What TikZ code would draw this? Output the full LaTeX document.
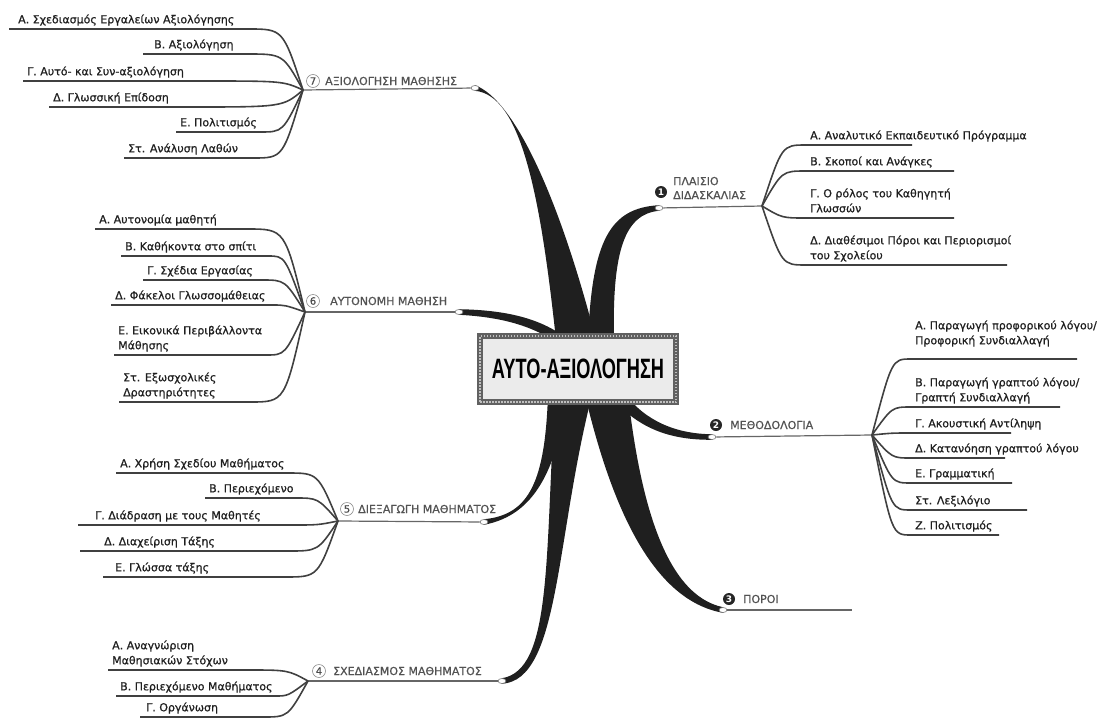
\documentclass[tikz,border=0pt]{standalone}
\usepackage{graphicx}
\usepackage{fontspec}
\setmainfont{DejaVu Sans}
\newfontfamily\leaffamily{DejaVu Sans}[FakeBold=0.8]
\newfontfamily\titlefamily{Liberation Sans}
\usetikzlibrary{shapes.geometric,backgrounds}

\tikzset{
  leaf/.style={anchor=south west, align=left, inner xsep=4pt, inner ysep=2.5pt, text depth=3pt,
    font=\leaffamily\fontsize{11}{15}\selectfont, text=black!88},
  twig/.style={draw=black!75, line width=1.6pt},
  stem/.style={draw=black!60, line width=1.2pt},
  topic/.style={anchor=west, inner sep=0pt, align=left, font=\leaffamily\fontsize{11}{14}\selectfont, text=black!68},
  ring/.style={circle, draw=black!45, line width=0.6pt, inner sep=0pt, minimum size=13pt,
    font=\leaffamily\fontsize{10}{10}\selectfont, text=black!70},
  badge/.style={circle, fill=black!85, inner sep=0pt, minimum size=12pt,
    font=\fontsize{9}{9}\selectfont\bfseries, text=white},
  knob/.style={ellipse, draw=black!55, fill=white, line width=0.6pt, minimum width=8pt,
    minimum height=5pt, inner sep=0pt},
  limb/.style={fill=black!88},
  rootbox/.style={draw=black!62, line width=6pt, fill=black!8, minimum width=196pt,
    minimum height=66pt, inner sep=0pt,
    postaction={draw=black!25, line width=2pt, dash pattern=on 1.5pt off 1.5pt}}
}

\begin{document}
\begin{tikzpicture}[x=1pt, y=-1pt]
\useasboundingbox (0,0) rectangle (1104,718);

% centre
\node[rootbox] (root) at (578,369) {\titlefamily\scalebox{0.65}[1]{\fontsize{28}{30}\selectfont\bfseries ΑΥΤΟ-ΑΞΙΟΛΟΓΗΣΗ}};

% branch ends
\node[knob] (c1) at (659,208) {};
\node[knob] (c2) at (712,437) {};
\node[knob] (c3) at (723,610) {};
\node[knob] (c4) at (502,681) {};
\node[knob] (c5) at (484,522) {};
\node[knob] (c6) at (459,312) {};
\node[knob] (c7) at (475,88) {};

\begin{scope}[on background layer]
\fill[limb] ([xshift=-22pt,yshift=29pt]root.center) .. controls (540,190) and (520,95) .. (c7.south)
  -- (c7.north) .. controls (515,100) and (560,200) .. ([xshift=18pt,yshift=29pt]root.center) -- cycle;
\fill[limb] ([xshift=10pt,yshift=29pt]root.center) .. controls (592,240) and (610,208) .. (c1.north)
  -- (c1.south) .. controls (625,214) and (612,250) .. ([xshift=36pt,yshift=29pt]root.center) -- cycle;
\fill[limb] ([xshift=-12pt,yshift=31pt]root.center) .. controls (540,318) and (505,310) .. (c6.north)
  -- (c6.south) .. controls (500,317) and (530,325) .. ([xshift=-22pt,yshift=27pt]root.center) -- cycle;
\fill[limb] ([xshift=48pt,yshift=-26pt]root.center) .. controls (645,420) and (675,434) .. (c2.north)
  -- (c2.south) .. controls (672,440) and (640,430) .. ([xshift=34pt,yshift=-29pt]root.center) -- cycle;
\fill[limb] ([xshift=7pt,yshift=-26pt]root.center) .. controls (610,500) and (650,600) .. (c3.south)
  -- (c3.north) .. controls (665,595) and (640,500) .. ([xshift=50pt,yshift=-26pt]root.center) -- cycle;
\fill[limb] ([xshift=-30pt,yshift=-26pt]root.center) .. controls (545,480) and (530,515) .. (c5.north)
  -- (c5.south) .. controls (535,515) and (556,470) .. ([xshift=-10pt,yshift=-26pt]root.center) -- cycle;
\fill[limb] ([xshift=-23pt,yshift=-26pt]root.center) .. controls (545,560) and (552,670) .. (c4.north)
  -- (c4.south) .. controls (560,680) and (555,540) .. ([xshift=14pt,yshift=-26pt]root.center) -- cycle;
\end{scope}

% junctions
\coordinate (j1) at (762,206);  \coordinate (k1) at (782,206);
\coordinate (j2) at (872,435);  \coordinate (k2) at (892,435);
\coordinate (e3) at (852,610);
\coordinate (j4) at (308,681);  \coordinate (k4) at (288,681);
\coordinate (j5) at (338,521);  \coordinate (k5) at (318,521);
\coordinate (j6) at (305,312);  \coordinate (k6) at (285,312);
\coordinate (j7) at (303,90);   \coordinate (k7) at (283,90);

\draw[stem] (c1) -- (j1);
\draw[stem] (c2) -- (j2);
\draw[stem] (c3) -- (e3);
\draw[stem] (j4) -- (c4);
\draw[stem] (j5) -- (c5);
\draw[stem] (j6) -- (c6);
\draw[stem] (j7) -- (c7);

% topics
\node[badge] (n1) at (661,192) {1};
\node[topic] (h1) at (673,188) {ΠΛΑΙΣΙΟ\\ΔΙΔΑΣΚΑΛΙΑΣ};
\node[badge] (n2) at (716,425) {2};
\node[topic] (h2) at (730,425) {ΜΕΘΟΔΟΛΟΓΙΑ};
\node[badge] (n3) at (729,599) {3};
\node[topic] (h3) at (743,599) {ΠΟΡΟΙ};
\node[ring] (n4) at (319,671) {4};
\node[topic] (h4) at (333,671) {ΣΧΕΔΙΑΣΜΟΣ ΜΑΘΗΜΑΤΟΣ};
\node[ring] (n5) at (347,509) {5};
\node[topic] (h5) at (358,509) {ΔΙΕΞΑΓΩΓΗ ΜΑΘΗΜΑΤΟΣ};
\node[ring] (n6) at (313,301) {6};
\node[topic] (h6) at (330,301) {ΑΥΤΟΝΟΜΗ ΜΑΘΗΣΗ};
\node[ring] (n7) at (313,81) {7};
\node[topic] (h7) at (325,81) {ΑΞΙΟΛΟΓΗΣΗ ΜΑΘΗΣΗΣ};

% 1
\node[leaf] (t1a) at (806,145) {Α. Αναλυτικό Εκπαιδευτικό Πρόγραμμα};
\node[leaf] (t1b) at (806,171) {Β. Σκοποί και Ανάγκες};
\node[leaf] (t1c) at (806,218) {Γ. Ο ρόλος του Καθηγητή\\Γλωσσών};
\node[leaf] (t1d) at (806,265) {Δ. Διαθέσιμοι Πόροι και Περιορισμοί\\του Σχολείου};
\draw[twig] (j1) .. controls (k1 |- t1a.south) .. (t1a.south west) -- ++(106,0);
\draw[twig] (j1) .. controls (k1 |- t1b.south) .. (t1b.south west) -- ++(148,0);
\draw[twig] (j1) .. controls (k1 |- t1c.south) .. (t1c.south west) -- ++(148,0);
\draw[twig] (j1) .. controls (k1 |- t1d.south) .. (t1d.south west) -- ++(201,0);

% 2
\node[leaf, text depth=12pt] (t2a) at (911,359) {Α. Παραγωγή προφορικού λόγου/\\Προφορική Συνδιαλλαγή};
\node[leaf] (t2b) at (911,407) {Β. Παραγωγή γραπτού λόγου/\\Γραπτή Συνδιαλλαγή};
\node[leaf] (t2c) at (911,433) {Γ. Ακουστική Αντίληψη};
\node[leaf] (t2d) at (911,458) {Δ. Κατανόηση γραπτού λόγου};
\node[leaf] (t2e) at (911,483) {Ε. Γραμματική};
\node[leaf] (t2f) at (911,510) {Στ. Λεξιλόγιο};
\node[leaf] (t2g) at (911,535) {Ζ. Πολιτισμός};
\draw[twig] (j2) .. controls (k2 |- t2a.south) .. (t2a.south west) -- ++(166,0);
\draw[twig] (j2) .. controls (k2 |- t2b.south) .. (t2b.south west) -- ++(149,0);
\draw[twig] (j2) .. controls (k2 |- t2c.south) .. (t2c.south west) -- ++(100,0);
\draw[twig] (j2) .. controls (k2 |- t2d.south) .. (t2d.south west) -- ++(94,0);
\draw[twig] (j2) .. controls (k2 |- t2e.south) .. (t2e.south west) -- ++(101,0);
\draw[twig] (j2) .. controls (k2 |- t2f.south) .. (t2f.south west) -- ++(116,0);
\draw[twig] (j2) .. controls (k2 |- t2g.south) .. (t2g.south west) -- ++(88,0);

% 4
\node[leaf] (t4a) at (108,670) {Α. Αναγνώριση\\Μαθησιακών Στόχων};
\node[leaf] (t4b) at (116,696) {Β. Περιεχόμενο Μαθήματος};
\node[leaf] (t4c) at (142,717) {Γ. Οργάνωση};
\draw[twig] (t4a.south west) -- ++(139,0) .. controls (k4 |- t4a.south) .. (j4);
\draw[twig] (t4b.south west) -- ++(159,0) .. controls (k4 |- t4b.south) .. (j4);
\draw[twig] ([xshift=-2pt]t4c.south west) -- ++(123,0) .. controls (k4 |- t4c.south) .. (j4);

% 5
\node[leaf] (t5a) at (116,473) {Α. Χρήση Σχεδίου Μαθήματος};
\node[leaf] (t5b) at (205,498) {Β. Περιεχόμενο};
\node[leaf] (t5c) at (91,525) {Γ. Διάδραση με τους Μαθητές};
\node[leaf] (t5d) at (100,551) {Δ. Διαχείριση Τάξης};
\node[leaf] (t5e) at (111,577) {Ε. Γλώσσα τάξης};
\draw[twig] (t5a.south west) -- ++(171,0) .. controls (k5 |- t5a.south) .. (j5);
\draw[twig] (t5b.south west) -- ++(90,0) .. controls (k5 |- t5b.south) .. (j5);
\draw[twig] ([xshift=-13pt]t5c.south west) -- ++(214,0) .. controls (k5 |- t5c.south) .. (j5);
\draw[twig] ([xshift=-20pt]t5d.south west) -- ++(208,0) .. controls (k5 |- t5d.south) .. (j5);
\draw[twig] ([xshift=-8pt]t5e.south west) -- ++(182,0) .. controls (k5 |- t5e.south) .. (j5);

% 6
\node[leaf] (t6a) at (95,229) {Α. Αυτονομία μαθητή};
\node[leaf] (t6b) at (121,256) {Β. Καθήκοντα στο σπίτι};
\node[leaf] (t6c) at (143,280) {Γ. Σχέδια Εργασίας};
\node[leaf] (t6d) at (111,305) {Δ. Φάκελοι Γλωσσομάθειας};
\node[leaf] (t6e) at (114,355) {Ε. Εικονικά Περιβάλλοντα\\Μάθησης};
\node[leaf] (t6f) at (119,402) {Στ. Εξωσχολικές\\Δραστηριότητες};
\draw[twig] (t6a.south west) -- ++(152,0) .. controls (k6 |- t6a.south) .. (j6);
\draw[twig] (t6b.south west) -- ++(147,0) .. controls (k6 |- t6b.south) .. (j6);
\draw[twig] (t6c.south west) -- ++(119,0) .. controls (k6 |- t6c.south) .. (j6);
\draw[twig] (t6d.south west) -- ++(161,0) .. controls (k6 |- t6d.south) .. (j6);
\draw[twig] (t6e.south west) -- ++(152,0) .. controls (k6 |- t6e.south) .. (j6);
\draw[twig] (t6f.south west) -- ++(131,0) .. controls (k6 |- t6f.south) .. (j6);

% 7
\node[leaf] (t7a) at (14,29) {Α. Σχεδιασμός Εργαλείων Αξιολόγησης};
\node[leaf] (t7b) at (150,54) {Β. Αξιολόγηση};
\node[leaf] (t7c) at (23,81) {Γ. Αυτό- και Συν-αξιολόγηση};
\node[leaf] (t7d) at (49,107) {Δ. Γλωσσική Επίδοση};
\node[leaf] (t7e) at (176,132) {Ε. Πολιτισμός};
\node[leaf] (t7f) at (124,158) {Στ. Ανάλυση Λαθών};
\draw[twig] ([xshift=-5pt]t7a.south west) -- ++(239,0) .. controls (k7 |- t7a.south) .. (j7);
\draw[twig] ([xshift=-7pt]t7b.south west) -- ++(104,0) .. controls (k7 |- t7b.south) .. (j7);
\draw[twig] (t7c.south west) -- ++(177,0) .. controls (k7 |- t7c.south) .. (j7);
\draw[twig] (t7d.south west) -- ++(141,0) .. controls (k7 |- t7d.south) .. (j7);
\draw[twig] (t7e.south west) -- ++(84,0) .. controls (k7 |- t7e.south) .. (j7);
\draw[twig] (t7f.south west) -- ++(129,0) .. controls (k7 |- t7f.south) .. (j7);
\end{tikzpicture}
\end{document}
